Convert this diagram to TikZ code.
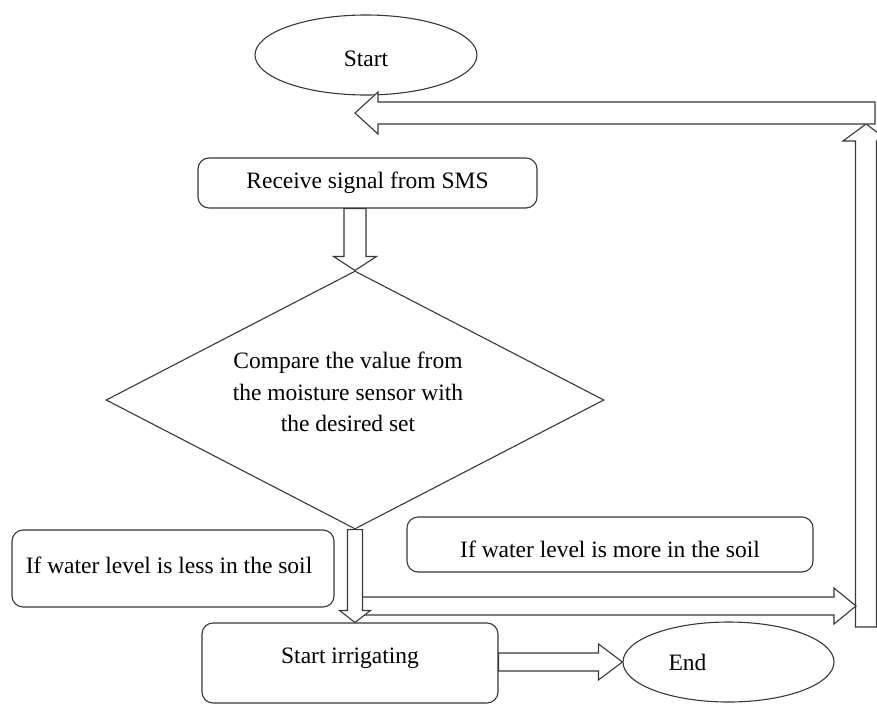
\documentclass[tikz,border=0pt]{standalone}
\usepackage{fontspec}
\setmainfont{Liberation Serif}
\usetikzlibrary{shapes.geometric,calc}
\tikzset{
  outl/.style={draw=black!78, line width=1.1pt},
  rbox/.style={outl, rectangle, rounded corners=11pt, inner sep=0pt, fill=white},
  ellnode/.style={outl, ellipse, inner sep=0pt, fill=white},
  decis/.style={outl, diamond, inner sep=0pt, shape aspect=1.93, fill=white},
  blockarrow/.style={outl, fill=white, line join=miter},
}
\newcommand{\blkarrow}[5]{%
  \coordinate (bh) at ($(#2)!#5!(#1)$);
  \draw[blockarrow] ($(#1)!#3!90:(#2)$) -- ($(bh)!#3!-90:(#1)$) -- ($(bh)!#4!-90:(#1)$) -- (#2)
    -- ($(bh)!#4!90:(#1)$) -- ($(bh)!#3!90:(#1)$) -- ($(#1)!#3!-90:(#2)$) -- cycle;}
\begin{document}
\begin{tikzpicture}[x=1pt,y=-1pt,font=\fontsize{23.5}{31.5}\selectfont]
\useasboundingbox (0,0) rectangle (877,704);
\clip (0,0) rectangle (877,704);
% nodes
\node[ellnode, minimum width=222pt, minimum height=80pt,
  label={[yshift=-4pt]center:Start}] (start) at (366,55) {};
\node[rbox, minimum width=339pt, minimum height=50pt] (recv) at (367.5,183) {Receive signal from SMS};
\node[decis, minimum width=498pt, minimum height=258pt,
  label={[align=center, xshift=-7pt, yshift=8pt]center:Compare the value from\\the moisture sensor with\\the desired set}] (cmp) at (355,400) {};
\node[rbox, minimum width=322pt, minimum height=77pt,
  label={[xshift=-4pt, yshift=3.5pt]center:If water level is less in the soil}] (less) at (173,568.5) {};
\node[rbox, minimum width=406pt, minimum height=55pt,
  label={[yshift=-5pt]center:If water level is more in the soil}] (more) at (610,544.5) {};
\node[rbox, minimum width=296pt, minimum height=80pt,
  label={[yshift=5pt]center:Start irrigating}] (irr) at (350,663) {};
\node[ellnode, minimum width=211pt, minimum height=80pt, label={[xshift=-41pt]center:End}] (end) at (728.5,662) {};
% free ends
\coordinate (loopR) at (875,113);
\coordinate (loopL) at (355,113);
\coordinate (upB) at (866,627);
\coordinate (upT) at (866,124);
\coordinate (yesL) at (359,606);
\coordinate (yesR) at (856,606);
\coordinate (r0) at (recv.south -| cmp.north);
\coordinate (d0) at (cmp.south);
\coordinate (d1) at (cmp.south |- irr.north);
\coordinate (e0) at (irr.east |- end.west);
% connectors
\blkarrow{upB}{upT}{10.5pt}{23pt}{17pt}
\blkarrow{loopR}{loopL}{11pt}{21pt}{23pt}
\blkarrow{r0}{cmp.north}{11pt}{21.5pt}{14pt}
\blkarrow{yesL}{yesR}{9pt}{18pt}{22pt}
\blkarrow{d0}{d1}{7.5pt}{15.5pt}{12pt}
\blkarrow{e0}{end.west}{9pt}{18pt}{24pt}
\end{tikzpicture}
\end{document}
